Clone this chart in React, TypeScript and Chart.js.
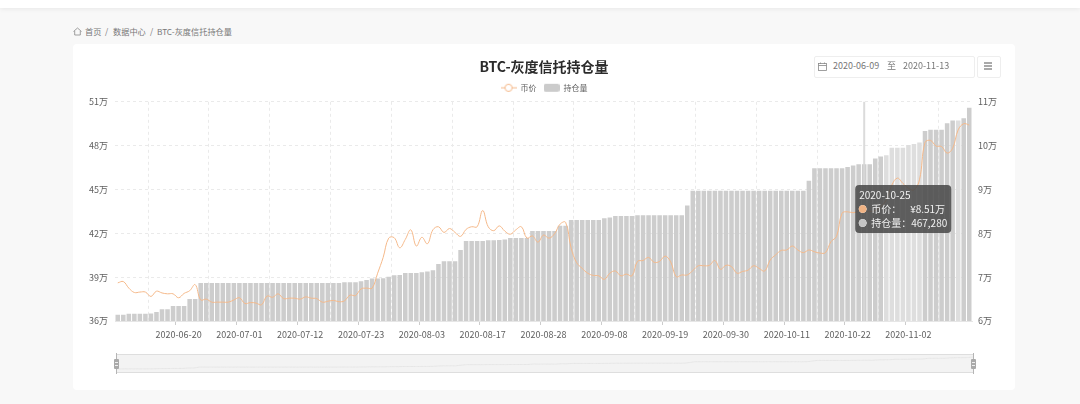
import React, { useEffect, useRef } from "react";
import { Chart, registerables, Tooltip } from "chart.js";

Chart.register(...registerables);

const dates = [
"2020-06-09","2020-06-10","2020-06-11","2020-06-12","2020-06-13","2020-06-14","2020-06-15","2020-06-16","2020-06-17","2020-06-18","2020-06-19","2020-06-20","2020-06-21","2020-06-22","2020-06-23","2020-06-24","2020-06-25","2020-06-26","2020-06-27","2020-06-28","2020-06-29","2020-06-30",
"2020-07-01","2020-07-02","2020-07-03","2020-07-04","2020-07-05","2020-07-06","2020-07-07","2020-07-08","2020-07-09","2020-07-10","2020-07-11","2020-07-12","2020-07-13","2020-07-14","2020-07-15","2020-07-16","2020-07-17","2020-07-18","2020-07-19","2020-07-20","2020-07-21","2020-07-22","2020-07-23","2020-07-24","2020-07-25","2020-07-26","2020-07-27","2020-07-28","2020-07-29","2020-07-30","2020-07-31",
"2020-08-01","2020-08-02","2020-08-03","2020-08-04","2020-08-05","2020-08-06","2020-08-07","2020-08-10","2020-08-11","2020-08-12","2020-08-13","2020-08-14","2020-08-16","2020-08-17","2020-08-18","2020-08-19","2020-08-20","2020-08-21","2020-08-22","2020-08-23","2020-08-24","2020-08-25","2020-08-26","2020-08-27","2020-08-28","2020-08-29","2020-08-30","2020-08-31",
"2020-09-01","2020-09-02","2020-09-03","2020-09-04","2020-09-05","2020-09-06","2020-09-07","2020-09-08","2020-09-09","2020-09-10","2020-09-11","2020-09-12","2020-09-13","2020-09-14","2020-09-15","2020-09-16","2020-09-17","2020-09-18","2020-09-19","2020-09-20","2020-09-21","2020-09-22","2020-09-23","2020-09-24","2020-09-25","2020-09-26","2020-09-27","2020-09-28","2020-09-29","2020-09-30",
"2020-10-01","2020-10-02","2020-10-03","2020-10-04","2020-10-05","2020-10-06","2020-10-07","2020-10-08","2020-10-09","2020-10-10","2020-10-11","2020-10-12","2020-10-13","2020-10-14","2020-10-15","2020-10-16","2020-10-17","2020-10-18","2020-10-19","2020-10-20","2020-10-21","2020-10-22","2020-10-23","2020-10-24","2020-10-25","2020-10-26","2020-10-27","2020-10-28","2020-10-29","2020-10-30","2020-10-31",
"2020-11-01","2020-11-02","2020-11-03","2020-11-04","2020-11-05","2020-11-06","2020-11-07","2020-11-08","2020-11-09","2020-11-10","2020-11-11","2020-11-12","2020-11-13",
];

const tickDates = ["2020-06-20","2020-07-01","2020-07-12","2020-07-23","2020-08-03","2020-08-17","2020-08-28","2020-09-08","2020-09-19","2020-09-30","2020-10-11","2020-10-22","2020-11-02"];

// 币价 (万)
const priceWan = [
6.87,6.90,6.75,6.65,6.66,6.66,6.56,6.68,6.64,6.62,6.62,6.53,6.63,6.69,6.83,6.48,6.50,6.43,6.43,6.43,
6.43,6.48,6.53,6.40,6.42,6.41,6.37,6.57,6.54,6.62,6.51,6.52,6.52,6.50,6.55,6.52,6.51,6.43,6.45,6.47,
6.44,6.46,6.59,6.58,6.73,6.75,6.75,7.09,7.45,7.89,7.90,7.67,7.86,8.08,7.71,7.91,7.76,8.08,8.15,8.02,
8.11,8.02,7.93,8.09,8.15,8.15,8.52,8.15,8.06,8.17,8.05,7.98,8.08,8.15,7.89,7.94,7.80,7.96,7.89,7.99,
8.21,8.25,7.66,7.33,7.20,7.09,7.04,7.03,6.95,7.09,7.14,7.03,7.07,7.03,7.36,7.38,7.45,7.34,7.36,7.48,
7.35,7.01,7.05,7.05,7.15,7.26,7.26,7.27,7.38,7.18,7.27,7.24,7.09,7.13,7.16,7.26,7.20,7.14,7.39,7.51,
7.61,7.62,7.71,7.62,7.56,7.62,7.58,7.55,7.56,7.81,7.93,8.46,8.49,8.47,8.50,8.51,8.50,8.52,8.61,8.76,
9.10,9.26,9.14,9.03,8.99,9.22,10.07,10.12,9.99,9.98,9.83,9.94,10.36,10.50,10.47,
];

// 持仓量 (万)
const holdingsWan = [
36.43,36.43,36.50,36.50,36.50,36.50,36.52,36.62,36.80,36.80,37.03,37.03,37.03,37.51,37.51,38.60,38.60,38.60,38.60,38.60,
38.60,38.60,38.60,38.60,38.60,38.60,38.60,38.60,38.60,38.60,38.60,38.60,38.60,38.60,38.60,38.60,38.60,38.60,38.60,38.60,
38.60,38.65,38.65,38.65,38.72,38.81,38.90,38.90,38.92,39.03,39.13,39.15,39.29,39.29,39.29,39.34,39.38,39.47,39.90,40.09,
40.09,40.09,40.86,41.48,41.48,41.48,41.48,41.53,41.53,41.55,41.57,41.68,41.68,41.68,41.68,42.16,42.16,42.16,42.16,42.16,
42.51,42.51,42.92,42.92,42.92,42.92,42.92,42.92,43.03,43.08,43.19,43.19,43.19,43.19,43.24,43.24,43.24,43.24,43.24,43.24,
43.24,43.24,43.24,43.90,44.92,44.92,44.92,44.92,44.92,44.92,44.92,44.92,44.92,44.92,44.92,44.92,44.92,44.92,44.92,44.92,
44.92,44.92,44.92,44.92,44.92,45.59,46.46,46.46,46.46,46.46,46.46,46.46,46.53,46.64,46.728,46.728,46.728,47.12,47.25,47.35,
47.85,47.85,47.85,48.05,48.12,48.21,49.00,49.08,49.08,49.08,49.54,49.72,49.72,49.88,50.59,
];

const paleBarDates = ["2020-10-29","2020-10-30","2020-10-31","2020-11-01","2020-11-02","2020-11-03","2020-11-04","2020-11-11"];
const hoverDate = "2020-10-25";
const FONT = '"Noto Sans CJK SC", "Noto Sans", sans-serif';
const ORANGE = "#f5b98a";
const BAR = "#cdcdcd";
const BAR_PALE = "#dedede";
const TEXT = "#606060";

function legendIcon(kind: "line" | "rect") {
  const c = document.createElement("canvas");
  c.width = 16;
  c.height = 10;
  const g = c.getContext("2d")!;
  if (kind === "line") {
    g.strokeStyle = ORANGE;
    g.lineWidth = 1;
    g.beginPath();
    g.moveTo(0, 5);
    g.lineTo(16, 5);
    g.stroke();
    g.fillStyle = "#fff";
    g.beginPath();
    g.arc(8, 5, 3.6, 0, Math.PI * 2);
    g.fill();
    g.stroke();
  } else {
    g.fillStyle = "#cbcbcb";
    g.beginPath();
    g.roundRect(0, 1, 16, 8, 2);
    g.fill();
  }
  return c;
}

(Tooltip.positioners as any).besideHover = function (items: any[]) {
  if (!items.length) return false;
  return { x: items[0].element.x - 5, y: 141 };
};

const crosshair = {
  id: "crosshair",
  afterDatasetsDraw(chart: any) {
    const { ctx, chartArea, scales } = chart;
    const x = scales.x.getPixelForValue(dates.indexOf(hoverDate));
    ctx.save();
    ctx.strokeStyle = "rgba(215,215,215,0.9)";
    ctx.lineWidth = 2;
    ctx.beginPath();
    ctx.moveTo(x, chartArea.top);
    ctx.lineTo(x, chartArea.bottom);
    ctx.stroke();
    ctx.restore();
  },
};

const textStyle: React.CSSProperties = { position: "absolute", fontFamily: FONT, fontSize: 9, color: "#777", lineHeight: "12px", whiteSpace: "pre" };
const crumbStyle: React.CSSProperties = { ...textStyle, fontSize: 8.2 };

export default function App() {
  const mainRef = useRef<HTMLCanvasElement>(null);
  const sparkRef = useRef<HTMLCanvasElement>(null);

  useEffect(() => {
    document.body.style.margin = "0";
    const hoverIndex = dates.indexOf(hoverDate);
    const main = new Chart(mainRef.current!, {
      data: {
        labels: dates,
        datasets: [
          {
            type: "line",
            label: "币价",
            data: priceWan.map((v) => v * 10000),
            yAxisID: "yRight",
            borderColor: ORANGE,
            backgroundColor: ORANGE,
            borderWidth: 1,
            pointRadius: 0,
            pointHoverRadius: 0,
            tension: 0.4,
            order: 0,
          },
          {
            type: "bar",
            label: "持仓量",
            data: holdingsWan.map((v) => v * 10000),
            yAxisID: "yLeft",
            backgroundColor: (c: any) => (paleBarDates.includes(dates[c.dataIndex]) ? BAR_PALE : BAR),
            hoverBackgroundColor: (c: any) => (paleBarDates.includes(dates[c.dataIndex]) ? BAR_PALE : BAR),
            categoryPercentage: 1,
            barPercentage: 0.82,
            order: 1,
          },
        ],
      } as any,
      options: {
        responsive: false,
        animation: false,
        events: [],
        layout: { padding: 0 },
        scales: {
          x: {
            type: "category",
            position: "bottom",
            border: { color: "#e6e6e6" },
            grid: {
              drawOnChartArea: false,
              tickLength: 4,
              tickColor: (c: any) => (tickDates.includes(dates[c.index]) ? "#ccc" : "transparent"),
            },
            ticks: {
              autoSkip: false,
              maxRotation: 0,
              minRotation: 0,
              padding: 4,
              color: TEXT,
              font: { family: FONT, size: 9 },
              callback: (_v: any, i: number) => (tickDates.includes(dates[i]) ? dates[i] : ""),
            },
            afterFit: (s: any) => {
              s.height = 33;
            },
          },
          xGrid: {
            type: "category",
            position: "bottom",
            labels: dates,
            offset: true,
            border: { display: false, dash: [3, 3] },
            grid: {
              offset: true,
              drawTicks: false,
              color: (c: any) => ((c.index - 6) % 11 === 0 ? "#eaeaea" : "transparent"),
              lineWidth: 1,
            },
            ticks: { display: false, autoSkip: false },
            afterFit: (s: any) => {
              s.height = 0;
            },
          },
          yLeft: {
            type: "linear",
            position: "left",
            min: 360000,
            max: 510000,
            border: { display: false, dash: [3, 3] },
            grid: { color: "#eaeaea", drawTicks: false },
            ticks: {
              stepSize: 30000,
              padding: 7,
              color: TEXT,
              font: { family: FONT, size: 9 },
              callback: (v: any) => `${v / 10000}万`,
            },
            afterFit: (s: any) => {
              s.width = 42;
            },
          },
          yRight: {
            type: "linear",
            position: "right",
            min: 60000,
            max: 110000,
            border: { display: false },
            grid: { drawOnChartArea: false, drawTicks: false },
            ticks: {
              stepSize: 10000,
              padding: 6,
              color: TEXT,
              font: { family: FONT, size: 9 },
              callback: (v: any) => `${v / 10000}万`,
            },
            afterFit: (s: any) => {
              s.width = 43;
            },
          },
        },
        plugins: {
          title: {
            display: true,
            text: "BTC-灰度信托持仓量",
            color: "#2b2b2b",
            font: { family: FONT, size: 14, weight: "bold" },
            padding: { top: 14, bottom: 2 },
          },
          legend: {
            display: true,
            position: "top",
            labels: {
              usePointStyle: true,
              pointStyleWidth: 16,
              padding: 7,
              color: TEXT,
              font: { family: FONT, size: 8 },
              generateLabels: () => [
                { text: "币价", pointStyle: legendIcon("line"), datasetIndex: 0, fontColor: TEXT, lineWidth: 0, strokeStyle: "transparent", fillStyle: "transparent" },
                { text: "持仓量", pointStyle: legendIcon("rect"), datasetIndex: 1, fontColor: TEXT, lineWidth: 0, strokeStyle: "transparent", fillStyle: "transparent" },
              ],
            },
          },
          tooltip: {
            enabled: true,
            position: "besideHover",
            mode: "index",
            xAlign: "left",
            yAlign: "top",
            caretSize: 0,
            caretPadding: 0,
            backgroundColor: "rgba(70,70,70,0.85)",
            cornerRadius: 4,
            padding: { left: 4, right: 4, top: 4, bottom: 4 },
            titleColor: "#f2f2f2",
            bodyColor: "#f2f2f2",
            titleFont: { family: FONT, size: 10, weight: "normal" },
            bodyFont: { family: FONT, size: 10 },
            titleMarginBottom: 2,
            bodySpacing: 2,
            boxWidth: 7,
            boxHeight: 7,
            boxPadding: 3,
            usePointStyle: true,
            callbacks: {
              title: (items: any[]) => dates[items[0].dataIndex],
              label: (it: any) =>
                it.datasetIndex === 0
                  ? `币价：\u00a0\u00a0\u00a0\u00a0¥${priceWan[it.dataIndex].toFixed(2)}万`
                  : `持仓量：${Math.round(holdingsWan[it.dataIndex] * 10000).toLocaleString("en-US")}`,
              labelColor: (it: any) => {
                const col = it.datasetIndex === 0 ? "#f0b384" : "#c4c4c4";
                return { borderColor: col, backgroundColor: col, borderWidth: 0 };
              },
              labelPointStyle: () => ({ pointStyle: "circle", rotation: 0 }),
            },
          },
        },
      } as any,
      plugins: [crosshair],
    } as any);

    main.tooltip!.setActiveElements(
      [
        { datasetIndex: 0, index: hoverIndex },
        { datasetIndex: 1, index: hoverIndex },
      ],
      { x: 0, y: 0 }
    );
    main.update();

    const spark = new Chart(sparkRef.current!, {
      type: "line",
      data: {
        labels: dates,
        datasets: [
          {
            data: holdingsWan.map((v) => v * 10000),
            borderColor: "#e6e6e6",
            borderWidth: 1,
            pointRadius: 0,
            tension: 0.2,
          },
        ],
      },
      options: {
        responsive: false,
        animation: false,
        events: [],
        layout: { padding: 0 },
        plugins: { legend: { display: false }, title: { display: false }, tooltip: { enabled: false } },
        scales: {
          x: { display: false, offset: false },
          y: { display: false, min: 316000, max: 541000 },
        },
      },
    } as any);

    return () => {
      main.destroy();
      spark.destroy();
    };
  }, []);

  return (
    <div style={{ position: "fixed", left: 0, top: 0, width: 1080, height: 404, background: "#f8f8f8", overflow: "hidden" }}>
      <div style={{ position: "absolute", left: 0, top: 0, width: 1080, height: 8, background: "#fff", boxShadow: "0 1px 5px rgba(0,0,0,0.07)" }} />
      <svg style={{ position: "absolute", left: 73, top: 27 }} width="9" height="9" viewBox="0 0 9 9" fill="none" stroke="#888" strokeWidth="0.8">
        <path d="M0.5 4.5 L4.5 1 L8.5 4.5 M1.7 4 V8 H7.3 V4" />
      </svg>
      <div style={{ ...crumbStyle, left: 85, top: 25 }}>首页</div>
      <div style={{ ...crumbStyle, left: 105, top: 25 }}>/</div>
      <div style={{ ...crumbStyle, left: 113, top: 25 }}>数据中心</div>
      <div style={{ ...crumbStyle, left: 150, top: 25 }}>/</div>
      <div style={{ ...crumbStyle, left: 157, top: 25 }}>BTC-灰度信托持仓量</div>

      <div style={{ position: "absolute", left: 73, top: 44, width: 942, height: 346, background: "#fff", borderRadius: 4 }} />
      <canvas ref={mainRef} width={942} height={310} style={{ position: "absolute", left: 73, top: 44, display: "block" }} />

      <div style={{ position: "absolute", left: 814, top: 56, width: 159, height: 20, border: "1px solid #eee", borderRadius: 2, background: "#fff" }} />
      <svg style={{ position: "absolute", left: 818, top: 62 }} width="9" height="9" viewBox="0 0 9 9" fill="none" stroke="#888" strokeWidth="0.8">
        <rect x="0.5" y="1.5" width="8" height="7" />
        <path d="M0.5 3.5 H8.5 M2.5 0.5 V2 M6.5 0.5 V2" />
      </svg>
      <div style={{ ...textStyle, left: 833, top: 60 }}>2020-06-09</div>
      <div style={{ ...textStyle, left: 887, top: 60 }}>至</div>
      <div style={{ ...textStyle, left: 903, top: 60 }}>2020-11-13</div>
      <div style={{ position: "absolute", left: 977, top: 56, width: 22, height: 20, border: "1px solid #eee", borderRadius: 2, background: "#fff" }} />
      <svg style={{ position: "absolute", left: 984, top: 62 }} width="8" height="8" viewBox="0 0 8 8" stroke="#555" strokeWidth="1">
        <path d="M0 1 H8 M0 4 H8 M0 7 H8" />
      </svg>

      <div style={{ position: "absolute", left: 116, top: 354, width: 857, height: 19, boxSizing: "border-box", background: "#f3f3f3", borderTop: "1px solid #dedede", borderBottom: "1px solid #dedede" }} />
      <canvas ref={sparkRef} width={857} height={19} style={{ position: "absolute", left: 116, top: 354, display: "block" }} />
      {[116, 973].map((x) => (
        <React.Fragment key={x}>
          <div style={{ position: "absolute", left: x - 0.5, top: 353, width: 1, height: 21, background: "#b5b5b5" }} />
          <div style={{ position: "absolute", left: x - 2.5, top: 359, width: 5, height: 10, background: "#a9a9a9", borderRadius: 1 }} />
          <div style={{ position: "absolute", left: x - 1.5, top: 362, width: 3, height: 1, background: "#eee" }} />
          <div style={{ position: "absolute", left: x - 1.5, top: 365, width: 3, height: 1, background: "#eee" }} />
        </React.Fragment>
      ))}
    </div>
  );
}
